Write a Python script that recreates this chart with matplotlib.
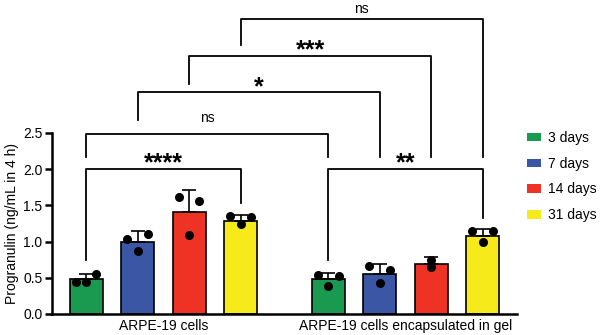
import matplotlib.pyplot as plt
import numpy as np
from matplotlib.patches import Patch

plt.rcParams['font.family'] = ['Liberation Sans', 'DejaVu Sans']

# data
groups = ['ARPE-19 cells', 'ARPE-19 cells encapsulated in gel']
days = ['3 days', '7 days', '14 days', '31 days']
colors = ['#1a9a50', '#3c56a6', '#ee3224', '#f6ea1a']

means_free = [0.48, 1.00, 1.41, 1.29]
sd_free = [0.075, 0.14, 0.30, 0.07]
pts_free = [[0.44, 0.55, 0.44], [1.03, 1.10, 0.87], [1.62, 1.56, 1.09], [1.35, 1.34, 1.24]]

means_gel = [0.48, 0.555, 0.69, 1.08]
sd_gel = [0.09, 0.135, 0.09, 0.09]
pts_gel = [[0.54, 0.53, 0.39], [0.66, 0.61, 0.43], [0.75, 0.65], [1.15, 1.15, 1.00]]

# bracket: (left bar index, right bar index, height, left leg bottom, right leg bottom, label)
brackets = [
    (0, 3, 2.00, 0.74, 1.53, '****'),
    (4, 7, 2.00, 0.74, 1.32, '**'),
    (0, 4, 2.49, 2.17, 2.17, 'ns'),
    (1, 5, 3.06, 2.68, 2.17, '*'),
    (2, 6, 3.57, 3.18, 2.17, '***'),
    (3, 7, 4.08, 3.72, 2.17, 'ns'),
]

x = np.array([0, 1, 2, 3, 4.7, 5.7, 6.7, 7.7])
means = means_free + means_gel
sds = sd_free + sd_gel
pts = pts_free + pts_gel

fig = plt.figure(figsize=(6, 3.35), dpi=100)
ax = fig.add_axes([0.087, 0.063, 0.775, 0.54])

for i in range(8):
    c = colors[i % 4]
    ax.bar(x[i], means[i], width=0.64, color=c, edgecolor='black', linewidth=1.2, zorder=2)
    ax.errorbar(x[i], means[i], yerr=[[0], [sds[i]]], color='black', capsize=5,
                elinewidth=1.2, capthick=1.2, zorder=3)
    p = pts[i]
    offs = [-0.2, 0.2, 0.0] if len(p) == 3 else [0.0, 0.0]
    ax.scatter(x[i] + np.array(offs[:len(p)]), p, s=30, color='black', zorder=4)

for l, r, h, lb, rb, lab in brackets:
    ax.plot([x[l], x[l], x[r], x[r]], [lb, h, h, rb], color='black', lw=1.3, clip_on=False)
    if lab == 'ns':
        off = 0.08 if h > 4 else 0.16
        ax.text((x[l] + x[r]) / 2, h + off, lab, ha='center', va='baseline', fontsize=10)
    else:
        ax.text((x[l] + x[r]) / 2, h - 0.02, lab, ha='center', va='baseline',
                fontsize=18, fontweight='bold')

ax.set_xlim(-0.66, 8.37)
ax.set_ylim(0, 2.5)
ax.set_yticks([0, 0.5, 1.0, 1.5, 2.0, 2.5])
ax.set_yticklabels(['0.0', '0.5', '1.0', '1.5', '2.0', '2.5'])
ax.set_xticks([1.5, 6.2])
ax.set_xticklabels(groups)
ax.tick_params(axis='x', length=0, pad=4, labelsize=10)
ax.tick_params(axis='y', length=5, width=1.8, labelsize=10, pad=2)
ax.spines['top'].set_visible(False)
ax.spines['right'].set_visible(False)
ax.spines['left'].set_linewidth(1.8)
ax.spines['bottom'].set_linewidth(1.8)
ax.set_ylabel('Progranulin (ng/mL in 4 h)', fontsize=10, labelpad=3)

handles = [Patch(facecolor=c, edgecolor='none') for c in colors]
fig.legend(handles, days, loc='upper left', bbox_to_anchor=(0.869, 0.626), frameon=False,
           fontsize=10, handlelength=1.0, handleheight=0.55, handletextpad=0.55,
           labelspacing=0.85, borderaxespad=0)

fig.savefig('out.png', dpi=100)
